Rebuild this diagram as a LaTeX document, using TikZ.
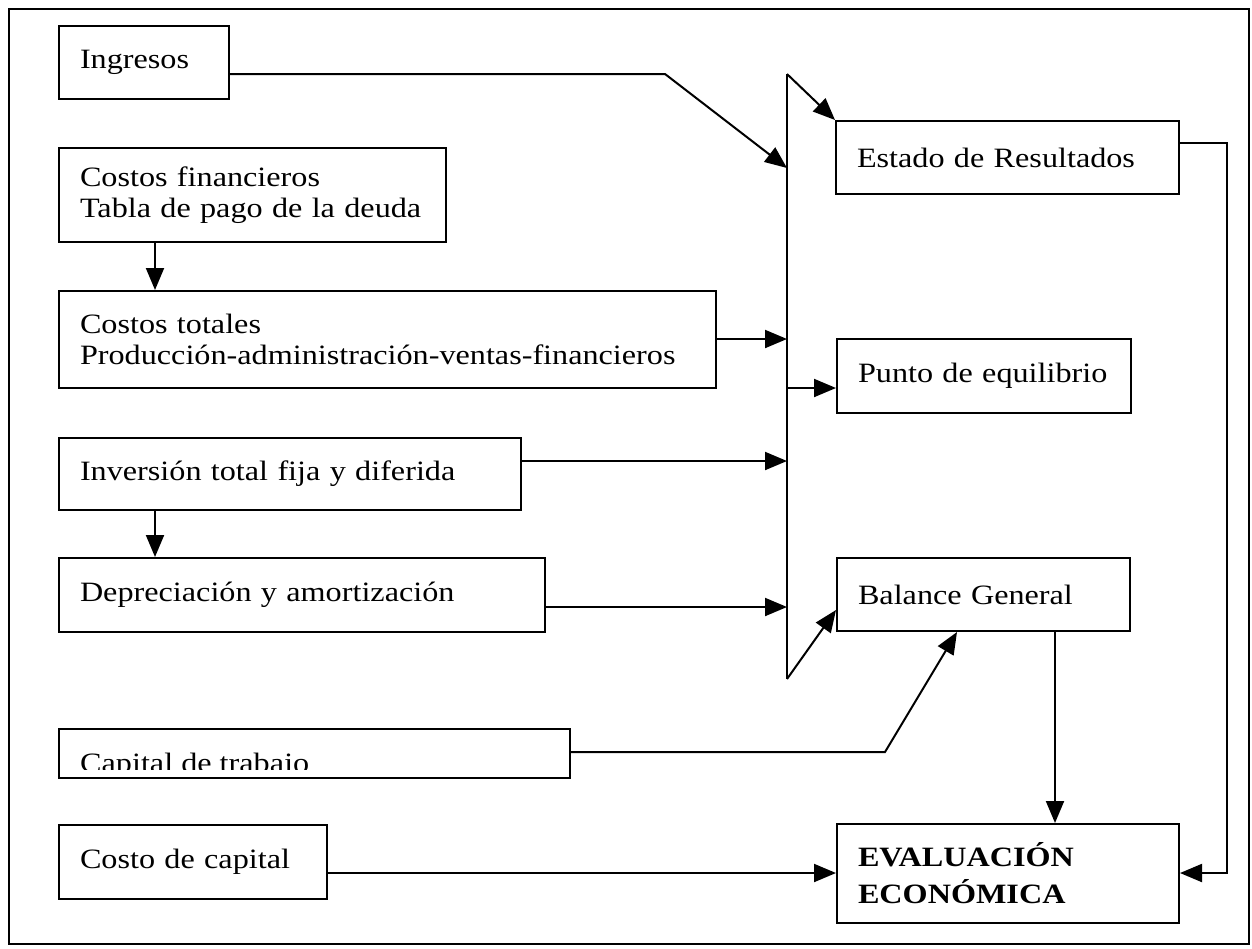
\documentclass[tikz,border=0pt]{standalone}
\usepackage{fontspec}
\setmainfont{Liberation Serif}[FakeStretch=1.15]
\usetikzlibrary{arrows.meta,calc}
\begin{document}
\begin{tikzpicture}[x=1pt,y=-1pt,
  every node/.style={font=\fontsize{28}{31}\selectfont},
  box/.style={draw,line width=2pt,anchor=north west,inner xsep=21pt,inner ysep=0pt,align=left},
  conn/.style={line width=2pt},
  arr/.style={line width=2pt,-{Triangle[length=22pt,width=18pt]}},
  line join=miter]
\useasboundingbox (0,0) rectangle (1252,948);
\draw[line width=1.6pt] (9,9) rectangle (1249,944);

% left column
\node[box,minimum width=170pt,minimum height=73pt,text width=128pt] (ing) at (58,25) {Ingresos};
\node[box,minimum width=387pt,minimum height=94pt,text width=345pt] (cfin) at (58,147) {Costos financieros\\Tabla de pago de la deuda};
\node[box,minimum width=657pt,minimum height=97pt,text width=615pt] (ctot) at (58,290) {Costos totales\\Producción-administración-ventas-financieros};
\node[box,minimum width=462pt,minimum height=72pt,text width=420pt] (inv) at (58,437) {Inversión total fija y diferida};
\node[box,minimum width=486pt,minimum height=74pt,text width=444pt] (dep) at (58,557) {Depreciación y amortización};
\node[box,minimum width=511pt,minimum height=49pt] (cap) at (58,728) {};
\begin{scope}
  \clip (58,728) rectangle (569,769);
  \node[anchor=base west,inner sep=0pt] (captxt) at (80,772) {Capital de trabajo};
\end{scope}
\node[box,minimum width=268pt,minimum height=74pt,text width=226pt] (cost) at (58,824) {Costo de capital};

% right column
\node[box,minimum width=343pt,minimum height=73pt,text width=301pt] (est) at (835,120) {Estado de Resultados};
\node[box,minimum width=294pt,minimum height=74pt,text width=252pt] (pun) at (836,338) {Punto de equilibrio};
\node[box,minimum width=293pt,minimum height=73pt,text width=251pt] (bal) at (836,557) {Balance General};
\node[box,minimum width=342pt,minimum height=99pt,text width=300pt,font=\fontsize{28}{37}\selectfont\bfseries] (eva) at (836,823) {EVALUACIÓN\\ECONÓMICA};

% bus coordinates
\coordinate (bt) at (787,74);
\coordinate (bb) at (787,679);
\coordinate (k1) at (665,74);
\coordinate (b1) at (787,168);
\coordinate (b2) at (787,339);
\coordinate (b3) at (787,388);
\coordinate (b4) at (787,461);
\coordinate (b5) at (787,607);
\coordinate (b6) at (836,610);
\coordinate (r1) at (1227,143);
\coordinate (r2) at (1227,873);
\coordinate (c1) at (885,752);

% bus
\draw[conn] (bt) -- (bb);
\draw[arr] (bt) -- (est.north west);
\draw[arr] (bb) -- (b6);

% connectors
\draw[arr] (ing.east |- bt) -- (k1) -- (b1);
\draw[arr] ($(cfin.south west)+(97,0)$) -- ($(ctot.north west)+(97,0)$);
\draw[arr] (ctot.east |- b2) -- (b2);
\draw[arr] (b3) -- (pun.west |- b3);
\draw[arr] (inv.east |- b4) -- (b4);
\draw[arr] ($(inv.south west)+(97,0)$) -- ($(dep.north west)+(97,0)$);
\draw[arr] (dep.east |- b5) -- (b5);
\draw[arr] (cap.east |- c1) -- (c1) -- ($(bal.south west)+(121,0)$);
\draw[arr] ($(bal.south west)+(219,0)$) -- ($(eva.north west)+(219,0)$);
\draw[arr] (est.east |- r1) -- (r1) -- (r2) -- (eva.east |- r2);
\draw[arr] (cost.east |- r2) -- (eva.west |- r2);
\end{tikzpicture}
\end{document}
